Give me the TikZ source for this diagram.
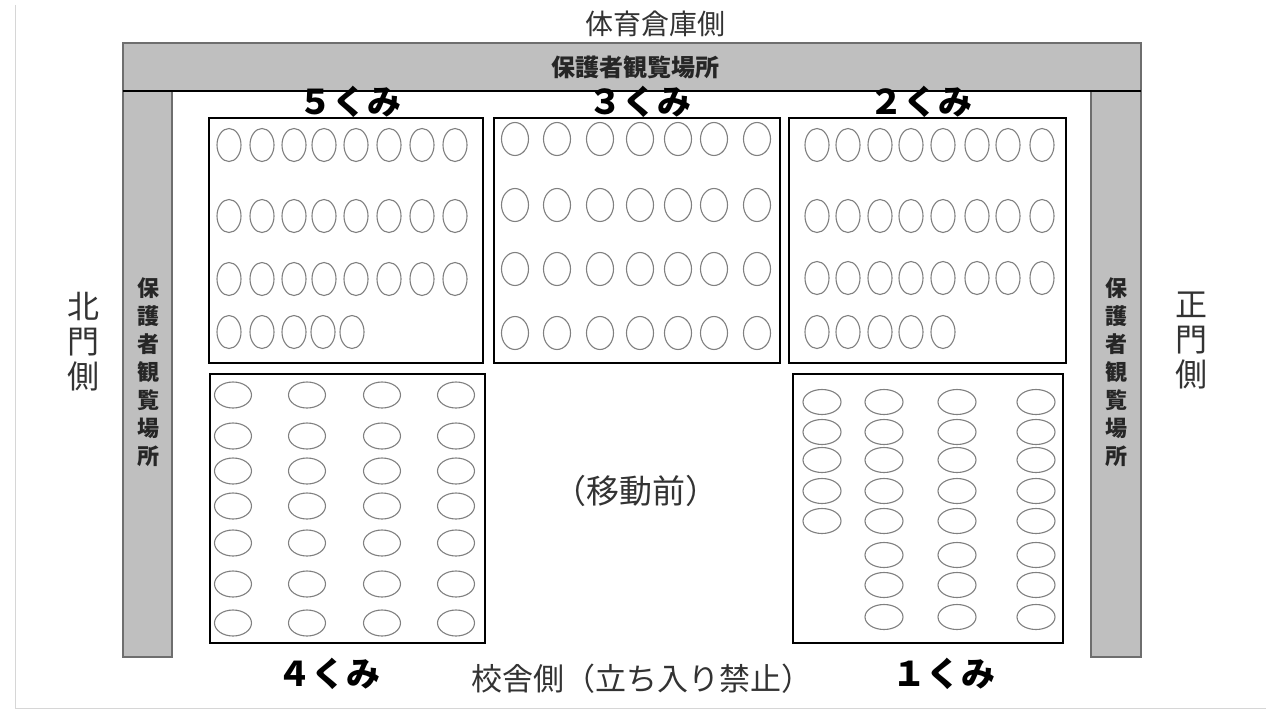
\documentclass[tikz,border=0pt]{standalone}
\usepackage{fontspec}
\setmainfont{Noto Sans CJK JP}
\usetikzlibrary{positioning}

\definecolor{barfill}{HTML}{BFBFBF}
\definecolor{barline}{HTML}{6E6E6E}
\definecolor{seatline}{HTML}{808080}
\definecolor{frameline}{HTML}{D6D6D6}

\tikzset{
	bar/.style={fill=barfill, draw=barline, line width=1.3pt},
	area/.style={draw=black, line width=2pt},
	seat/.style={draw=seatline, line width=1.1pt},
	kumi/.style={font=\fontsize{34}{36}\selectfont\bfseries, inner sep=0pt},
	side/.style={font=\fontsize{28}{35}\selectfont, text=black!80, align=center, inner sep=0pt},
	bartext/.style={font=\fontsize{22}{28}\selectfont\bfseries, text=black!85, align=center, inner sep=0pt},
}

\begin{document}
\begin{tikzpicture}[x=1pt, y=-1pt]
			\useasboundingbox (0,0) rectangle (1266,709);
			\fill[white] (0,0) rectangle (1266,709);
			
			% Screenshot frame
			\draw[frameline, line width=1pt] (15,5) -- (15,708) -- (1266,708);
			
			% Guardian areas
			\draw[bar] (123,43) rectangle (1141,91);
			\draw[bar] (123,91) rectangle (172,657);
			\draw[bar] (1091,91) rectangle (1141,657);
			\draw[black, line width=1.5pt] (123,91) -- (1141,91);
			\node[bartext, font=\fontsize{24}{28}\selectfont\bfseries] (guardtop) at (635,67) {保護者観覧場所};
			\node[bartext] (guardleft) at (148,372) {保\\護\\者\\観\\覧\\場\\所};
			\node[bartext] (guardright) at (1116,372) {保\\護\\者\\観\\覧\\場\\所};
			
			% Sides
			\node[side] (storeside) at (655,24) {体育倉庫側};
			\node[side, font=\fontsize{32}{35}\selectfont] (northside) at (83,342) {北\\門\\側};
			\node[side, font=\fontsize{32}{35}\selectfont] (mainside) at (1191,341) {正\\門\\側};
			\node[side, font=\fontsize{31}{35}\selectfont] (schoolside) at (642,679) {校舎側（立ち入り禁止）};
			\node[side, font=\fontsize{33}{35}\selectfont] (before) at (636,491) {（移動前）};
			
			% Class areas
			\draw[area] (209,118) rectangle (483,363);
			\draw[area] (494,118) rectangle (780,363);
			\draw[area] (789,118) rectangle (1066,363);
			\draw[area] (210,374) rectangle (485,643);
			\draw[area] (793,374) rectangle (1063,643);
			
			% Class 5
			\foreach \y in {145,216,279} {
				\foreach \x in {229,262,294,324,356,389,422,455}
					\draw[seat] (\x,\y) ellipse (12 and 16.5);
			}
			\foreach \x in {229,262,294,323,352}
				\draw[seat] (\x,332) ellipse (12 and 16.5);
			
			% Class 3
			\foreach \y in {139,205,269,333} {
				\foreach \x in {515,557,600,640,678,714,757}
					\draw[seat] (\x,\y) ellipse (13.5 and 16.5);
			}
			
			% Class 2
			\foreach \y in {145,216,278} {
				\foreach \x in {817,848,880,911,943,977,1008,1042}
					\draw[seat] (\x,\y) ellipse (12 and 16.5);
			}
			\foreach \x in {817,848,880,911,943}
				\draw[seat] (\x,332) ellipse (12 and 16.5);
			
			% Class 4
			\foreach \y in {395,436,471,506,543,584,623} {
				\foreach \x in {233,307,382,456}
					\draw[seat] (\x,\y) ellipse (18.5 and 13);
			}
			
			% Class 1
			\foreach \y in {402,432,460,491,521}
				\draw[seat] (822,\y) ellipse (19 and 12.5);
			\foreach \y in {402,432,460,491,521,555,585,617} {
				\foreach \x in {884,957,1036}
					\draw[seat] (\x,\y) ellipse (19 and 12.5);
			}
			
			% Class names
			\node[kumi] (kumi5) at (350,102) {５くみ};
			\node[kumi] (kumi3) at (640,102) {３くみ};
			\node[kumi] (kumi2) at (921,102) {２くみ};
			\node[kumi] (kumi4) at (329,674) {４くみ};
			\node[kumi] (kumi1) at (944,674) {１くみ};
		\end{tikzpicture}
\end{document}
